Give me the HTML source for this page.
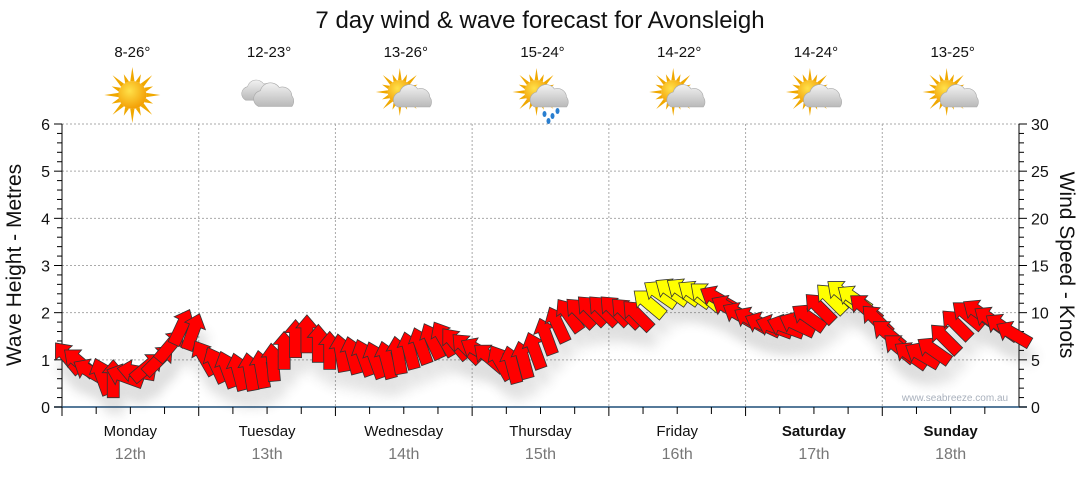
<!DOCTYPE html>
<html><head><meta charset="utf-8"><style>
body{margin:0;background:#fff;font-family:"Liberation Sans",sans-serif;}
svg text{font-family:"Liberation Sans",sans-serif;}
</style></head><body>
<svg id="c" width="1080" height="475" xmlns="http://www.w3.org/2000/svg">
<defs>
<radialGradient id="sunG" cx="0.4" cy="0.35" r="0.7"><stop offset="0" stop-color="#ffe14a"/><stop offset="1" stop-color="#f29a00"/></radialGradient>
<linearGradient id="cloudG" x1="0" y1="0" x2="0" y2="1"><stop offset="0" stop-color="#f2f2f2"/><stop offset="1" stop-color="#b9b9b9"/></linearGradient>
<filter id="sh" x="-50%" y="-50%" width="200%" height="200%"><feGaussianBlur stdDeviation="6"/></filter>
</defs>
<text x="540" y="28" font-size="24" text-anchor="middle" fill="#111">7 day wind &amp; wave forecast for Avonsleigh</text>
<g id="grid"></g>
<g id="axes"></g>
<g id="icons"></g>
<g id="shadows" opacity="0.18"></g>
<g id="arrows"></g>
<text x="955" y="401" font-size="10" fill="#a8b0bc" text-anchor="middle">www.seabreeze.com.au</text>
<text transform="translate(21,265) rotate(-90)" font-size="21" text-anchor="middle" fill="#111">Wave Height - Metres</text>
<text transform="translate(1060,265) rotate(90)" font-size="21" text-anchor="middle" fill="#111">Wind Speed - Knots</text>
</svg>
<script>
const days=["Monday","Tuesday","Wednesday","Thursday","Friday","Saturday","Sunday"];
const dates=["12th","13th","14th","15th","16th","17th","18th"];
const temps=["8-26°","12-23°","13-26°","15-24°","14-22°","14-24°","13-25°"];
const icons=["sun","cloud","partly","rain","partly","partly","partly"];
const heights=[1.05,0.95,0.75,0.65,0.6,0.65,0.75,0.85,1.0,1.3,1.7,1.6,
1.05,0.9,0.8,0.75,0.75,0.8,0.95,1.2,1.45,1.55,1.35,1.2,
1.15,1.1,1.05,1.0,1.0,1.1,1.2,1.3,1.4,1.45,1.35,1.25,
1.2,1.05,0.95,0.9,1.0,1.2,1.5,1.75,1.95,2.0,2.05,2.05,
2.05,2.0,1.95,2.2,2.4,2.45,2.45,2.4,2.35,2.3,2.1,1.95,
1.85,1.75,1.7,1.7,1.75,1.9,2.1,2.3,2.4,2.3,2.1,1.85,
1.55,1.25,1.1,1.1,1.2,1.45,1.75,1.95,2.0,1.85,1.7,1.55];
const dirs=[-40,-50,-60,-20,0,-70,-80,50,45,40,25,20,
-30,-25,-20,-15,-10,-10,-5,0,0,0,0,0,
-10,-15,-20,-20,-15,-10,-15,-20,-25,-30,-40,-45,
-60,-50,-30,-15,-15,-20,-20,-25,-35,-45,-45,-45,
-45,-45,-45,-50,-55,-55,-55,-55,-50,-60,-60,-60,
-60,-65,-70,-70,-65,-55,-45,-45,-50,-55,-50,-45,
-50,-50,-55,-60,-55,-45,-45,-50,-55,-55,-55,-60];
const speeds=[8,7,7,7,7,8,9,10,11,12,12,11,
8,8,8,8,8,9,9,10,11,11,10,10,
9,9,9,9,9,10,10,11,11,11,10,10,
9,8,8,8,9,10,11,12,12,12,12,12,
12,12,12,15,15,16,16,15,15,12,12,11,
11,10,10,10,11,12,13,15,16,15,12,11,
9,8,8,8,9,10,11,12,12,12,11,10];
const ns="http://www.w3.org/2000/svg";
const X0=62,X1=1019,Y0=407,Y1=124,DW=(X1-X0)/7;
const xs=h=>X0+h/24*DW, ys=m=>Y0-(m/6)*(Y0-Y1);
function mk(tag,at,par){const e=document.createElementNS(ns,tag);for(const k in at)e.setAttribute(k,at[k]);document.getElementById(par).appendChild(e);return e;}
for(let m=1;m<=6;m++){const l=mk("line",{x1:X0,x2:X1,y1:ys(m),y2:ys(m),stroke:"#aaa","stroke-dasharray":"2,2"},"grid");

}
for(let d=1;d<7;d++){const l=mk("line",{x1:xs(d*24),x2:xs(d*24),y1:Y1,y2:Y0,stroke:"#aaa","stroke-dasharray":"2,2"},"grid");

}
mk("line",{x1:X0,x2:X0,y1:Y1,y2:Y0,stroke:"#000"},"axes");
mk("line",{x1:X1,x2:X1,y1:Y1,y2:Y0,stroke:"#000"},"axes");
mk("line",{x1:X0-8,x2:X1+8,y1:Y0,y2:Y0,stroke:"#1f4e79","stroke-width":1.5},"axes");
for(let m=0;m<=6;m++){
 mk("line",{x1:X0-8,x2:X0,y1:ys(m),y2:ys(m),stroke:"#000"},"axes");
 const t=mk("text",{x:X0-12,y:ys(m)+6,"font-size":16,"text-anchor":"end",fill:"#111"},"axes");t.textContent=m;
 
 
 for(let k=1;k<5&&m<6;k++){const y=ys(m+k*0.2);mk("line",{x1:X0-5,x2:X0,y1:y,y2:y,stroke:"#000"},"axes");mk("line",{x1:X1,x2:X1+5,y1:y,y2:y,stroke:"#000"},"axes");}
 mk("line",{x1:X1,x2:X1+8,y1:ys(m),y2:ys(m),stroke:"#000"},"axes");
 const r=mk("text",{x:X1+12,y:ys(m)+6,"font-size":16,fill:"#111"},"axes");r.textContent=m*5;
 
 
}
for(let d=0;d<7;d++){
 for(let q=0;q<4;q++){const x=xs(d*24+q*6);mk("line",{x1:x,x2:x,y1:Y0,y2:Y0+(q==0?9:7),stroke:"#000"},"axes");}
 const cx=xs(d*24+12);
 const a=mk("text",{x:cx,y:436,"font-size":15,"text-anchor":"middle",fill:"#111","font-weight":d>=5?"bold":"normal"},"axes");a.textContent=days[d];
 
 
 const b=mk("text",{x:cx,y:459,"font-size":16,"text-anchor":"middle",fill:"#777"},"axes");b.textContent=dates[d];
 
 
 const t=mk("text",{x:cx+2,y:57,"font-size":15,"text-anchor":"middle",fill:"#111"},"icons");t.textContent=temps[d];
 
 
 const g=mk("g",{transform:`translate(${cx+2},95)`},"icons");
 
 
 const ty=icons[d];
 let s='';
 const sun=(sx,sy,r)=>{let o='';for(let i=0;i<16;i++){const an=i*Math.PI/8,L=i%2?r*1.6:r*2.0;o+=`<polygon points="${sx+Math.cos(an-0.15)*r},${sy+Math.sin(an-0.15)*r} ${sx+Math.cos(an)*L},${sy+Math.sin(an)*L} ${sx+Math.cos(an+0.15)*r},${sy+Math.sin(an+0.15)*r}" fill="#f0a800"/>`;}return o+`<circle cx="${sx}" cy="${sy}" r="${r}" fill="url(#sunG)"/>`;};
 const cloud=(cx2,cy2,sc)=>`<g transform="translate(${cx2},${cy2}) scale(${sc})"><path d="M-16,8 a8,8 0 0 1 2,-15 a10,10 0 0 1 18,-3 a9,9 0 0 1 12,8 a8,8 0 0 1 0,10 z" fill="url(#cloudG)" stroke="#aaa" stroke-width="0.6"/></g>`;
 if(ty=="sun")s=sun(0,0,14);
 else if(ty=="cloud")s=cloud(-9,-2,0.9)+cloud(6,3,1.05);
 else{s=sun(-6,-3,12)+cloud(8,4,1.0);if(ty=="rain")s+=`<g fill="#2a7fd0"><ellipse cx="2" cy="19" rx="2" ry="3"/><ellipse cx="10" cy="21" rx="2" ry="3"/><ellipse cx="6" cy="26" rx="2" ry="3"/><ellipse cx="15" cy="16" rx="2" ry="3"/></g>`;}
 g.innerHTML=s;
}
const shape="M0,-19 L11,-6 L6,-6 L6,19 L-6,19 L-6,-6 L-11,-6 Z";
for(let i=0;i<heights.length;i++){
 const x=xs(i*2+1),y=ys(heights[i]);
 const s=mk("path",{d:shape,transform:`translate(${x+4},${y+16}) rotate(${dirs[i]})`,fill:"#444",filter:"url(#sh)"},"shadows");
 
 
}
for(let i=0;i<heights.length;i++){
 const x=xs(i*2+1),y=ys(heights[i]);
 const p=mk("path",{d:shape,transform:`translate(${x},${y}) rotate(${dirs[i]})`,fill:speeds[i]>=15?"#ffff00":"#ff0000",stroke:"#333","stroke-width":0.8},"arrows");
 
 
}
</script>
</body></html>
